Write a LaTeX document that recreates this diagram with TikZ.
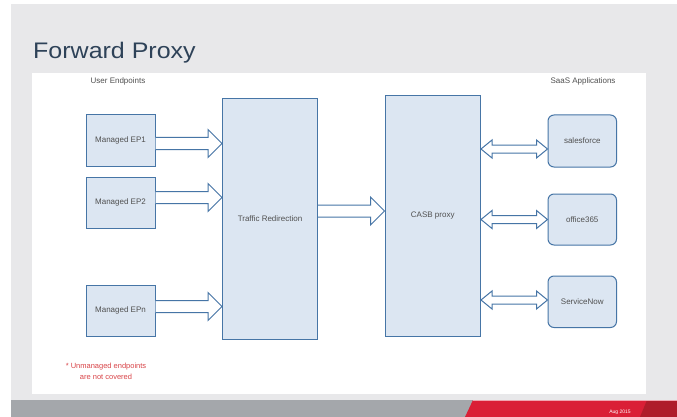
\documentclass[tikz,border=0pt]{standalone}
\usepackage{fontspec}
\setmainfont{Liberation Sans}
\usetikzlibrary{calc}
\definecolor{bggray}{HTML}{E8E8EA}
\definecolor{boxfill}{HTML}{DCE6F2}
\definecolor{boxline}{HTML}{4675A6}
\definecolor{titlecol}{HTML}{2E4258}
\definecolor{txtgray}{HTML}{505050}
\definecolor{notered}{HTML}{D94448}
\definecolor{footgray}{HTML}{A4A7AB}
\definecolor{footred}{HTML}{DA1F36}
\definecolor{footdark}{HTML}{AF1C2A}
\tikzset{
  box/.style={draw=boxline, fill=boxfill, line width=1pt, inner sep=0pt,
    font=\fontsize{8}{9}\selectfont, text=txtgray},
  appbox/.style={box, rounded corners=6pt},
  arrowline/.style={draw=boxline, fill=white, line width=1pt, line join=miter},
  smalltext/.style={font=\fontsize{8}{9}\selectfont, text=txtgray},
}
\newcommand\singlearrow[3]{%
  \draw[arrowline] let \p1=(#1), \p2=(#2), \p3=(0,#3) in
    (\x1,\y3+6pt) -- (\x2-14pt,\y3+6pt) -- (\x2-14pt,\y3+14pt) -- (\x2,\y3)
    -- (\x2-14pt,\y3-14pt) -- (\x2-14pt,\y3-6pt) -- (\x1,\y3-6pt);}
\newcommand\doublearrow[3]{%
  \draw[arrowline] let \p1=(#1), \p2=(#2), \p3=(0,#3) in
    (\x1,\y3) -- (\x1+11pt,\y3+9pt) -- (\x1+11pt,\y3+4pt) -- (\x2-11pt,\y3+4pt)
    -- (\x2-11pt,\y3+9pt) -- (\x2,\y3) -- (\x2-11pt,\y3-9pt) -- (\x2-11pt,\y3-4pt)
    -- (\x1+11pt,\y3-4pt) -- (\x1+11pt,\y3-9pt) -- cycle;}
\begin{document}
\begin{tikzpicture}[x=1pt,y=-1pt]
\useasboundingbox (0,0) rectangle (677,417);
% background
\fill[white] (0,0) rectangle (677,417);
\fill[bggray] (11,4) rectangle (677,417);
\fill[white] (32,73) rectangle (646,394);
% footer
\fill[footgray] (11,400) rectangle (677,417);
\fill[footred] (473,400) -- (677,400) -- (677,417) -- (465,417) -- cycle;
\fill[footdark] (647,400) -- (677,400) -- (677,417) -- (640,417) -- cycle;
\draw[white!60!footred, line width=0.6pt] (473,400.3) -- (677,400.3);
\node[font=\fontsize{5}{6}\selectfont, text=white] (date) at (620,412) {Aug 2015};
% title
\node[anchor=base west, inner sep=0pt, font=\fontsize{25}{28}\selectfont, text=titlecol] (title) at (33,58.3) {\scalebox{1}[0.9]{Forward Proxy}};
% headers
\node[smalltext] (uehead) at (118,81) {User Endpoints};
\node[smalltext] (saashead) at (583,81) {SaaS Applications};
% endpoint boxes
\node[box, minimum width=69pt, minimum height=51pt] (ep1) at (120.5,140.5) {Managed EP1};
\node[box, minimum width=69pt, minimum height=51pt] (ep2) at (120.5,202.5) {Managed EP2};
\node[box, minimum width=69pt, minimum height=51pt] (epn) at (120.5,310.5) {Managed EPn};
% central boxes
\node[box, minimum width=95pt, minimum height=240pt] (tr) at (270,219) {Traffic Redirection};
\node[box, minimum width=95.5pt, minimum height=240pt] (casb) at (432.75,216) {CASB proxy};
% apps
\node[appbox, minimum width=68.5pt, minimum height=52pt] (sf) at (582.25,141) {salesforce};
\node[appbox, minimum width=68.5pt, minimum height=51pt] (o365) at (582.25,219.5) {office365};
\node[appbox, minimum width=68.5pt, minimum height=51.5pt] (sn) at (582.25,301.75) {ServiceNow};
% arrows
\singlearrow{ep1.east}{tr.west}{143.5}
\singlearrow{ep2.east}{tr.west}{197.5}
\singlearrow{epn.east}{tr.west}{306.5}
\singlearrow{tr.east}{casb.west}{211}
\doublearrow{casb.east}{sf.west}{149}
\doublearrow{casb.east}{o365.west}{219.5}
\doublearrow{casb.east}{sn.west}{300}
% note
\node[font=\fontsize{7.5}{10.5}\selectfont, text=notered, align=center] (note) at (106,371.5) {* Unmanaged endpoints\\are not covered};
\end{tikzpicture}
\end{document}
